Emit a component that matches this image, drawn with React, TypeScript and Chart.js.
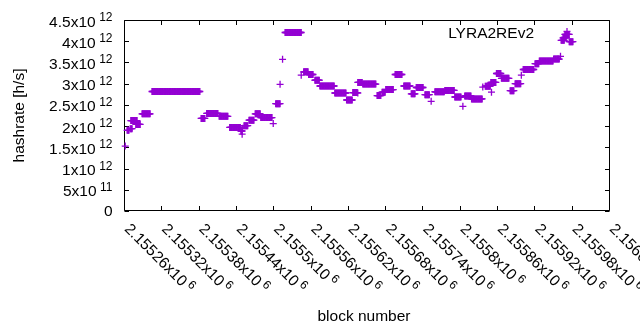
import React, { useEffect, useRef } from "react";
import { Chart, registerables } from "chart.js";

Chart.register(...registerables);

const SERIES_NAME = "LYRA2REv2";
const X_TITLE = "block number";
const Y_TITLE = "hashrate [h/s]";
const COLOR = "#9400d3";

const X_MIN = 2155260;
const X_MAX = 2156040;
const X_STEP = 60;
const Y_MIN = 0;
const Y_MAX = 4.5e12;
const Y_STEP = 0.5e12;

// Runs of consecutive blocks that share one hashrate value (in 10^12 h/s)
const runStart = [
  2155262, 2155265, 2155270, 2155271, 2155279, 2155289, 2155305, 2155384, 2155393, 2155413,
  2155430, 2155448, 2155450, 2155451, 2155453, 2155461, 2155471, 2155480, 2155500, 2155504,
  2155511, 2155515, 2155519, 2155545, 2155549, 2155557, 2155567, 2155575, 2155599, 2155618,
  2155628, 2155636, 2155636, 2155644, 2155667, 2155675, 2155681, 2155696, 2155710, 2155722,
  2155730, 2155744, 2155754, 2155760, 2155776, 2155792, 2155805, 2155808, 2155819, 2155837,
  2155841, 2155851, 2155850, 2155859, 2155867, 2155881, 2155889, 2155899, 2155902, 2155921,
  2155928, 2155951, 2155962, 2155963, 2155966, 2155969, 2155976,
];
const runEnd = [
  2155262, 2155268, 2155273, 2155281, 2155286, 2155302, 2155382, 2155390, 2155411, 2155427,
  2155447, 2155450, 2155450, 2155451, 2155459, 2155469, 2155479, 2155498, 2155500, 2155511,
  2155511, 2155515, 2155545, 2155545, 2155556, 2155564, 2155574, 2155598, 2155617, 2155627,
  2155635, 2155636, 2155643, 2155665, 2155673, 2155680, 2155693, 2155707, 2155720, 2155728,
  2155741, 2155751, 2155754, 2155775, 2155791, 2155802, 2155805, 2155818, 2155836, 2155837,
  2155849, 2155851, 2155858, 2155866, 2155879, 2155887, 2155898, 2155899, 2155919, 2155927,
  2155950, 2155960, 2155962, 2155968, 2155971, 2155976, 2155982,
];
const runValue = [
  1.53, 1.9, 1.94, 2.13, 2.04, 2.29, 2.815, 2.18, 2.3, 2.23,
  1.97, 1.885, 1.81, 1.95, 2.01, 2.14, 2.29, 2.2, 2.06, 2.528,
  2.985, 3.574, 4.205, 3.2, 3.28, 3.216, 3.08, 2.945, 2.78, 2.615,
  2.79, 2.78, 3.03, 2.99, 2.72, 2.8, 2.86, 3.216, 2.945, 2.76,
  2.91, 2.74, 2.585, 2.81, 2.84, 2.686, 2.467, 2.71, 2.64, 2.92,
  2.94, 2.8, 3.03, 3.24, 3.126, 2.835, 3.0, 3.2, 3.334, 3.47,
  3.534, 3.58, 3.645, 4.02, 4.08, 4.16, 3.99,
];

const FONT = '"Liberation Sans", Arial, sans-serif';
const MAIN_PX = 15.5;
const SUP_PX = 12;

function sciParts(v: number): [string, string | null] {
  if (v === 0) return ["0", null];
  const e = Math.floor(Math.log10(Math.abs(v)) + 1e-9);
  const m = Number((v / Math.pow(10, e)).toPrecision(10));
  return [String(m) + "x10", String(e)];
}

function tickValues(min: number, max: number, step: number): number[] {
  const out: number[] = [];
  const n = Math.round((max - min) / step);
  for (let i = 0; i <= n; i++) out.push(min + i * step);
  return out;
}

export default function App() {
  const ref = useRef<HTMLCanvasElement>(null);

  useEffect(() => {
    const canvas = ref.current!;
    const points: { x: number; y: number }[] = [];
    for (let i = 0; i < runStart.length; i++) {
      for (let b = runStart[i]; b <= runEnd[i]; b++) {
        points.push({ x: b, y: runValue[i] * 1e12 });
      }
    }

    const framePlugin = {
      id: "gnuplotFrame",
      beforeDatasetsDraw(chart: any) {
        const { ctx, chartArea: a, scales } = chart;
        const xs = scales.x;
        const ys = scales.y;
        ctx.save();
        ctx.strokeStyle = "#000";
        ctx.lineWidth = 1;
        const L = Math.round(a.left) + 0.5;
        const R = Math.round(a.right) + 0.5;
        const T = Math.round(a.top) + 0.5;
        const B = Math.round(a.bottom) - 0.5;
        ctx.beginPath();
        ctx.rect(L, T, R - L, B - T);
        ctx.stroke();
        const tl = 4.5;
        ctx.beginPath();
        for (const v of tickValues(X_MIN, X_MAX, X_STEP)) {
          const px = Math.round(xs.getPixelForValue(v)) + 0.5;
          ctx.moveTo(px, B);
          ctx.lineTo(px, B - tl);
          ctx.moveTo(px, T);
          ctx.lineTo(px, T + tl);
        }
        for (const v of tickValues(Y_MIN, Y_MAX, Y_STEP)) {
          const py = Math.round(ys.getPixelForValue(v)) + 0.5;
          ctx.moveTo(L, py);
          ctx.lineTo(L + tl, py);
          ctx.moveTo(R, py);
          ctx.lineTo(R - tl, py);
        }
        ctx.stroke();
        ctx.restore();
      },
      afterDraw(chart: any) {
        const { ctx, scales } = chart;
        const xs = scales.x;
        const ys = scales.y;
        const mainFont = `${MAIN_PX}px ${FONT}`;
        const supFont = `${SUP_PX}px ${FONT}`;
        ctx.save();
        ctx.fillStyle = "#000";
        ctx.textBaseline = "alphabetic";

        // y tick labels
        const yRight = 112.5;
        for (const v of tickValues(Y_MIN, Y_MAX, Y_STEP)) {
          const py = ys.getPixelForValue(v);
          const [main, sup] = sciParts(v);
          ctx.textAlign = "left";
          if (sup === null) {
            ctx.font = mainFont;
            const w = ctx.measureText(main).width;
            ctx.fillText(main, yRight - w, py + 5);
          } else {
            ctx.font = supFont;
            const sw = ctx.measureText(sup).width;
            ctx.fillText(sup, yRight - sw, py + 1);
            ctx.font = mainFont;
            const mw = ctx.measureText(main).width;
            ctx.fillText(main, yRight - sw - 3.5 - mw, py + 6.5);
          }
        }

        // x tick labels, rotated
        for (const v of tickValues(X_MIN, X_MAX, X_STEP)) {
          const px = xs.getPixelForValue(v);
          const [main, sup] = sciParts(v);
          ctx.save();
          ctx.translate(px + 4, 225.5);
          ctx.rotate(Math.PI / 4);
          ctx.textAlign = "left";
          ctx.font = mainFont;
          ctx.fillText(main, 0, 6);
          const mw = ctx.measureText(main).width;
          if (sup !== null) {
            ctx.font = supFont;
            ctx.fillText(sup, mw + 3, 0.5);
          }
          ctx.restore();
        }

        // axis titles
        ctx.font = mainFont;
        ctx.textAlign = "center";
        ctx.fillText(X_TITLE, 364, 321);
        ctx.save();
        ctx.translate(19.5, 115.5);
        ctx.rotate(-Math.PI / 2);
        ctx.textBaseline = "middle";
        ctx.fillText(Y_TITLE, 0, 0);
        ctx.restore();

        // key
        ctx.textAlign = "right";
        ctx.textBaseline = "alphabetic";
        ctx.fillText(SERIES_NAME, 534, 37.5);
        const kx = 567;
        const ky = 31.5;
        ctx.strokeStyle = COLOR;
        ctx.lineWidth = 1.3;
        ctx.beginPath();
        ctx.moveTo(kx - 3.5, ky);
        ctx.lineTo(kx + 3.5, ky);
        ctx.moveTo(kx, ky - 3.5);
        ctx.lineTo(kx, ky + 3.5);
        ctx.stroke();
        ctx.restore();
      },
    };

    const chart = new Chart(canvas, {
      type: "scatter",
      data: {
        datasets: [
          {
            label: SERIES_NAME,
            data: points,
            pointStyle: "cross",
            pointRadius: 3.5,
            pointBorderWidth: 1.3,
            borderWidth: 1.3,
            borderColor: COLOR,
            backgroundColor: COLOR,
            showLine: false,
            clip: false,
          } as any,
        ],
      },
      options: {
        responsive: false,
        animation: false,
        devicePixelRatio: 1,
        events: [],
        layout: { padding: { left: 124, right: 31, top: 20, bottom: 119 } },
        scales: {
          x: { type: "linear", display: false, min: X_MIN, max: X_MAX },
          y: { type: "linear", display: false, min: Y_MIN, max: Y_MAX },
        },
        plugins: {
          legend: { display: false },
          tooltip: { enabled: false },
        },
      },
      plugins: [framePlugin],
    });
    return () => chart.destroy();
  }, []);

  return (
    <div style={{ position: "fixed", left: 0, top: 0, width: 640, height: 330, background: "#fff" }}>
      <canvas ref={ref} width={640} height={330} style={{ display: "block", width: 640, height: 330 }} />
    </div>
  );
}
